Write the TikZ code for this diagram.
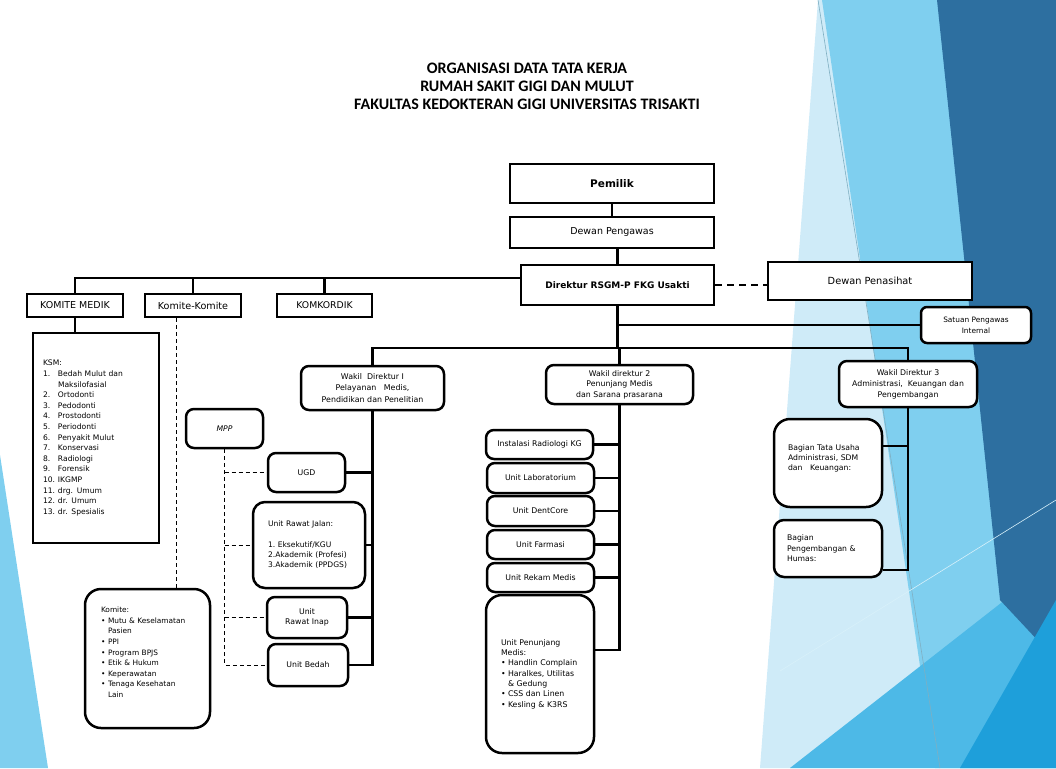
\documentclass[tikz,border=0pt]{standalone}
\usepackage{fontspec}
\setmainfont{DejaVu Sans}
\newfontfamily\titlefont{Carlito}
\usetikzlibrary{positioning,calc}

\definecolor{bgPale}{HTML}{CFEBF8}
\definecolor{bgSky}{HTML}{7FCFEF}
\definecolor{bgMid}{HTML}{4DB9E7}
\definecolor{bgSteel}{HTML}{2D6FA0}
\definecolor{bgBright}{HTML}{1E9FDA}

\newcommand\fsz[2]{\fontsize{#1}{#2}\selectfont}
\newcommand\num[1]{\makebox[15pt][l]{#1}}
\newcommand\blt{\makebox[7pt][l]{•}}
\newcommand\ind{\hspace*{7pt}}

\begin{document}
\begin{tikzpicture}[x=1pt,y=-1pt,
  box/.style={draw, line width=2.5pt, fill=white, inner sep=2pt, align=center,
    font=\fsz{7.8}{10.6}},
  rbox/.style={box, rounded corners=8pt},
  bigbox/.style={box, font=\fsz{9.6}{11}},
  link/.style={line width=2.5pt},
  dlink/.style={line width=0.9pt, dash pattern=on 4pt off 3pt}]
  \useasboundingbox (0,0) rectangle (1056,768);
  % background facets
  \fill[bgPale] (818,0) -- (1056,0) -- (1056,768) -- (760,768) -- cycle;
  \fill[bgSky] (822,0) -- (1056,0) -- (1056,768) -- (935,768) -- cycle;
  \fill[bgMid] (790,768) -- (1056,560) -- (1056,768) -- cycle;
  \fill[bgSteel] (937,0) -- (1056,0) -- (1056,660) -- (1000,600) -- cycle;
  \fill[bgBright] (960,768) -- (1056,600) -- (1056,768) -- cycle;
  \draw[bgSky!60!gray, line width=0.6pt] (818,0) -- (940,768);
  \draw[white!70!bgSky, line width=0.6pt] (780,671) -- (1056,500);
  \fill[bgSky] (0,455) -- (48,768) -- (0,768) -- cycle;

  % title
  \node[font=\titlefont\bfseries\fsz{16}{18}, align=center] (title) at (527,86)
    {ORGANISASI DATA TATA KERJA\\RUMAH SAKIT GIGI DAN MULUT\\FAKULTAS KEDOKTERAN GIGI UNIVERSITAS TRISAKTI};

  % top of the chart
  \node[box, minimum width=204pt, minimum height=39pt, font=\bfseries\fsz{10.5}{12}] (pemilik) at (612,183.5) {Pemilik};
  \node[bigbox, minimum width=204pt, minimum height=31pt, font=\fsz{9.5}{11}] (pengawas) at (612,232.5) {Dewan Pengawas};
  \node[box, minimum width=193pt, minimum height=40pt, font=\bfseries\fsz{9}{11}] (direktur) at (617.5,285) {Direktur RSGM-P FKG Usakti};
  \node[bigbox, minimum width=204pt, minimum height=38pt, font=\fsz{9.8}{11}] (penasihat) at (870,281) {Dewan Penasihat};
  \node[rbox, rounded corners=6pt, minimum width=110pt, minimum height=36pt, font=\fsz{7.4}{10.7}] (spi) at (976,325) {Satuan Pengawas\\Internal};

  % komite side
  \node[bigbox, minimum width=96pt, minimum height=23pt, font=\fsz{9.5}{11}] (komed) at (75,305.5) {KOMITE MEDIK};
  \node[bigbox, minimum width=96pt, minimum height=23pt] (kkomite) at (193,305.5) {Komite-Komite};
  \node[bigbox, minimum width=95pt, minimum height=23pt, font=\fsz{9.3}{11}] (komkordik) at (324.5,305.5) {KOMKORDIK};
  \node[box, minimum width=126pt, minimum height=210pt, inner xsep=10pt, text width=106pt, align=left, font=\fsz{7.6}{10.6}] (ksm) at (96,438)
    {KSM:\\\num{1.}Bedah Mulut dan\\\num{}Maksilofasial\\\num{2.}Ortodonti\\\num{3.}Pedodonti\\\num{4.}Prostodonti\\
     \num{5.}Periodonti\\\num{6.}Penyakit Mulut\\\num{7.}Konservasi\\\num{8.}Radiologi\\\num{9.}Forensik\\
     \num{10.}IKGMP\\\num{11.}drg. Umum\\\num{12.}dr. Umum\\\num{13.}dr. Spesialis};
  \node[rbox, rounded corners=16pt, minimum width=125pt, minimum height=139pt, inner xsep=16pt, text width=93pt, align=left, font=\fsz{7.4}{10.6}] (komite) at (147.5,658.5)
    {Komite:\\\blt Mutu \& Keselamatan\\\ind Pasien\\\blt PPI\\\blt Program BPJS\\\blt Etik \& Hukum\\
     \blt Keperawatan\\\blt Tenaga Kesehatan\\\ind Lain\\[2pt]~};

  % wakil direktur
  \node[rbox, minimum width=143pt, minimum height=44pt, font=\fsz{7.9}{11.5}] (w1) at (372.5,388)
    {Wakil~~Direktur I\\Pelayanan~~~Medis,\\Pendidikan dan Penelitian};
  \node[rbox, minimum width=147pt, minimum height=39pt] (w2) at (619.5,384.5)
    {Wakil direktur 2\\Penunjang Medis\\dan Sarana prasarana};
  \node[rbox, minimum width=138pt, minimum height=46pt, font=\fsz{7.8}{11}] (w3) at (908,384)
    {Wakil Direktur 3\\Administrasi,~~Keuangan dan\\Pengembangan};

  % units under wakil I
  \node[rbox, minimum width=77pt, minimum height=39pt, font=\itshape\fsz{7.7}{10}] (mpp) at (224.5,428.5) {MPP};
  \node[rbox, minimum width=77pt, minimum height=39pt] (ugd) at (306.5,472.5) {UGD};
  \node[rbox, rounded corners=12pt, minimum width=112pt, minimum height=86pt, inner xsep=15pt, text width=82pt, align=left, font=\fsz{7.6}{10.3}] (urj) at (309,545)
    {Unit Rawat Jalan:\\[10.3pt]1.~Eksekutif/KGU\\2.Akademik (Profesi)\\3.Akademik (PPDGS)};
  \node[rbox, minimum width=80pt, minimum height=41pt] (uri) at (307,617.5) {Unit\\Rawat Inap};
  \node[rbox, minimum width=80pt, minimum height=42pt] (ubedah) at (308,665) {Unit Bedah};

  % units under wakil 2
  \node[rbox, minimum width=107pt, minimum height=29pt] (rad) at (539.5,444.5) {Instalasi Radiologi KG};
  \node[rbox, minimum width=107pt, minimum height=30pt] (lab) at (540.5,478) {Unit Laboratorium};
  \node[rbox, minimum width=107pt, minimum height=30pt] (dent) at (540.5,511) {Unit DentCore};
  \node[rbox, minimum width=107pt, minimum height=29pt] (farm) at (540.5,544.5) {Unit Farmasi};
  \node[rbox, minimum width=107pt, minimum height=29pt] (rekam) at (540.5,577.5) {Unit Rekam Medis};
  \node[rbox, rounded corners=16pt, minimum width=108pt, minimum height=158pt, inner xsep=15pt, text width=78pt, align=left, font=\fsz{7.8}{10.3}] (penunjang) at (540,674)
    {Unit Penunjang\\Medis:\\\blt Handlin Complain\\\blt Haralkes, Utilitas\\\ind\&~Gedung\\\blt CSS dan Linen\\\blt Kesling \& K3RS};

  % units under wakil 3
  \node[rbox, rounded corners=16pt, minimum width=108pt, minimum height=88pt, inner xsep=14pt, text width=80pt, align=left, font=\fsz{7.7}{10}] (tatausaha) at (828,463)
    {Bagian Tata Usaha\\Administrasi, SDM\\dan~~~Keuangan:\\[1pt]~};
  \node[rbox, rounded corners=10pt, minimum width=108pt, minimum height=57pt, inner xsep=13pt, text width=82pt, align=left, font=\fsz{7.7}{10.5}] (bangun) at (828,548.5)
    {Bagian\\Pengembangan \&\\Humas:};

  % connectors
  \coordinate (kbus) at (77,278);
  \coordinate (wbus) at (617.5,348);
  \draw[link] (pemilik) -- (pengawas);
  \draw[link] (direktur.north) -- (direktur.north |- pengawas.south);
  \draw[line width=2.5pt, dash pattern=on 7pt off 5pt] (direktur.east) -- (direktur.east -| penasihat.west);
  \draw[link] ([yshift=7pt]direktur.west) -| (komed.north);
  \draw[link] (kkomite.north) -- (kkomite.north |- kbus);
  \draw[link] (komkordik.north) -- (komkordik.north |- kbus);
  \draw[link] (komed.south) -- (komed.south |- ksm.north);
  \draw[dlink] ([xshift=-17pt]kkomite.south) -- ([xshift=-17pt]kkomite.south |- komite.north);
  \draw[link] (direktur.south) -- (wbus);
  \draw[link] (direktur.south |- spi.west) -- (spi.west);
  \draw[link] (w1.north) |- (wbus) -| (w3.north);
  \draw[link] (w2.north) -- (w2.north |- wbus);
  % wakil I column
  \draw[link] (w1.south) -- (w1.south |- ubedah.east) -- (ubedah.east);
  \foreach \u in {ugd,urj,uri} {\draw[link] (\u.east) -- (\u.east -| w1.south);}
  \draw[dlink] (mpp.south) -- (mpp.south |- ubedah.west) -- (ubedah.west);
  \foreach \u in {ugd,urj,uri} {\draw[dlink] (mpp.south |- \u.west) -- (\u.west);}
  % wakil 2 column
  \draw[link] (w2.south) -- (w2.south |- 0,650) -- ([yshift=24pt]penunjang.east);
  \foreach \u in {rad,lab,dent,farm,rekam} {\draw[link] (\u.east) -- (\u.east -| w2.south);}
  % wakil 3 column
  \draw[link] (w3.south) -- (w3.south |- 0,570) -- ([yshift=-21.5pt]bangun.east);
  \draw[link] ([yshift=17pt]tatausaha.east) -- ([yshift=17pt]tatausaha.east -| w3.south);
\end{tikzpicture}
\end{document}
